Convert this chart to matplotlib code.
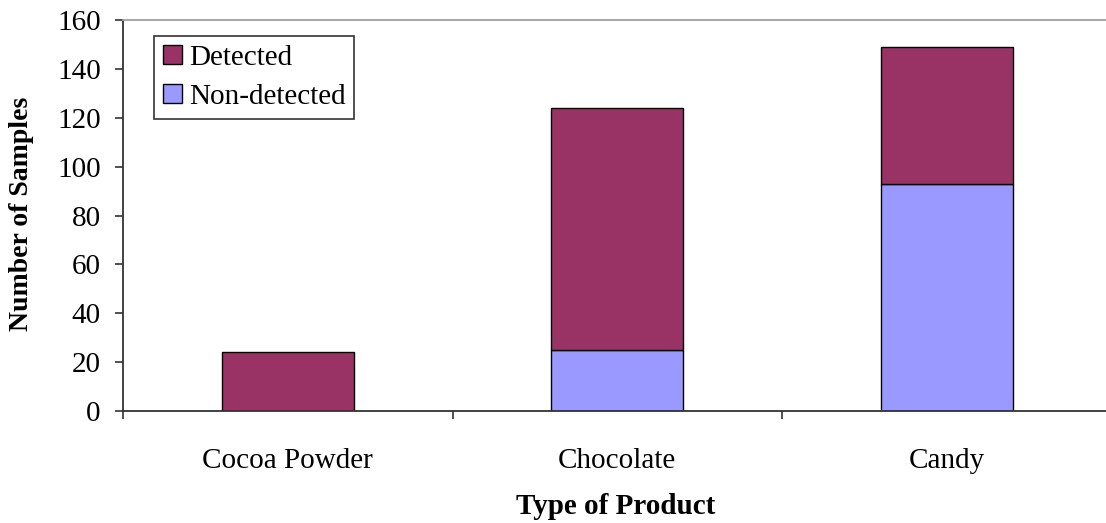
import matplotlib
matplotlib.use("Agg")
import matplotlib.pyplot as plt
import numpy as np

categories = ["Cocoa Powder", "Chocolate", "Candy"]
non_detected = [0, 25, 93]
detected = [24, 99, 56]

plt.rcParams['font.family'] = ['Liberation Serif', 'DejaVu Serif']

W, H = 1106, 523
fig = plt.figure(figsize=(W/100, H/100), dpi=100)
left, bottom, top = 123, 411, 20
cat_w = 329.5
ax = fig.add_axes([left/W, (H-bottom)/H, 3*cat_w/W, (bottom-top)/H])

x = np.arange(len(categories))
c_det = '#993366'
c_non = '#9999FF'
ax.bar(x, non_detected, width=0.4, color=c_non, edgecolor='black', linewidth=1.0, label='Non-detected')
ax.bar(x, detected, width=0.4, bottom=non_detected, color=c_det, edgecolor='black', linewidth=1.0, label='Detected')

ax.set_xlim(-0.5, 2.5)
ax.set_ylim(0, 160)
ax.set_yticks(np.arange(0, 161, 20))
ax.set_xticks(x)
ax.set_xticklabels(categories)
ax.set_xticks([-0.5, 0.5, 1.5, 2.5], minor=True)
ax.tick_params(axis='x', which='major', length=0, pad=27, labelsize=21)
ax.tick_params(axis='x', which='minor', length=6, width=1.2, direction='out', color='#333333')
ax.tick_params(axis='y', length=6, width=1.2, direction='out', pad=10, labelsize=21, color='#333333')

ax.spines['right'].set_visible(False)
ax.spines['top'].set_color('#a0a0a0')
ax.spines['top'].set_linewidth(1.3)
for s in ['left', 'bottom']:
    ax.spines[s].set_color('#333333')
    ax.spines[s].set_linewidth(1.3)

fig.text(22/W, 1-(214/H), 'Number of Samples', rotation=90, ha='center', va='center',
         fontsize=20, fontweight='bold')
fig.text(616/W, 1-(506/H), 'Type of Product', ha='center', va='center',
         fontsize=21, fontweight='bold')

handles, labels = ax.get_legend_handles_labels()
leg = ax.legend(handles[::-1], labels[::-1], loc='upper left',
                bbox_to_anchor=((154-left)/(3*cat_w), 1-(36-top)/(bottom-top)),
                fontsize=21, frameon=True, fancybox=False, edgecolor='black',
                handlelength=0.65, handleheight=0.65, handletextpad=0.25,
                borderpad=0.3, labelspacing=0.45, borderaxespad=0)
leg.get_frame().set_linewidth(1.2)

fig.savefig('out.png', dpi=100)
